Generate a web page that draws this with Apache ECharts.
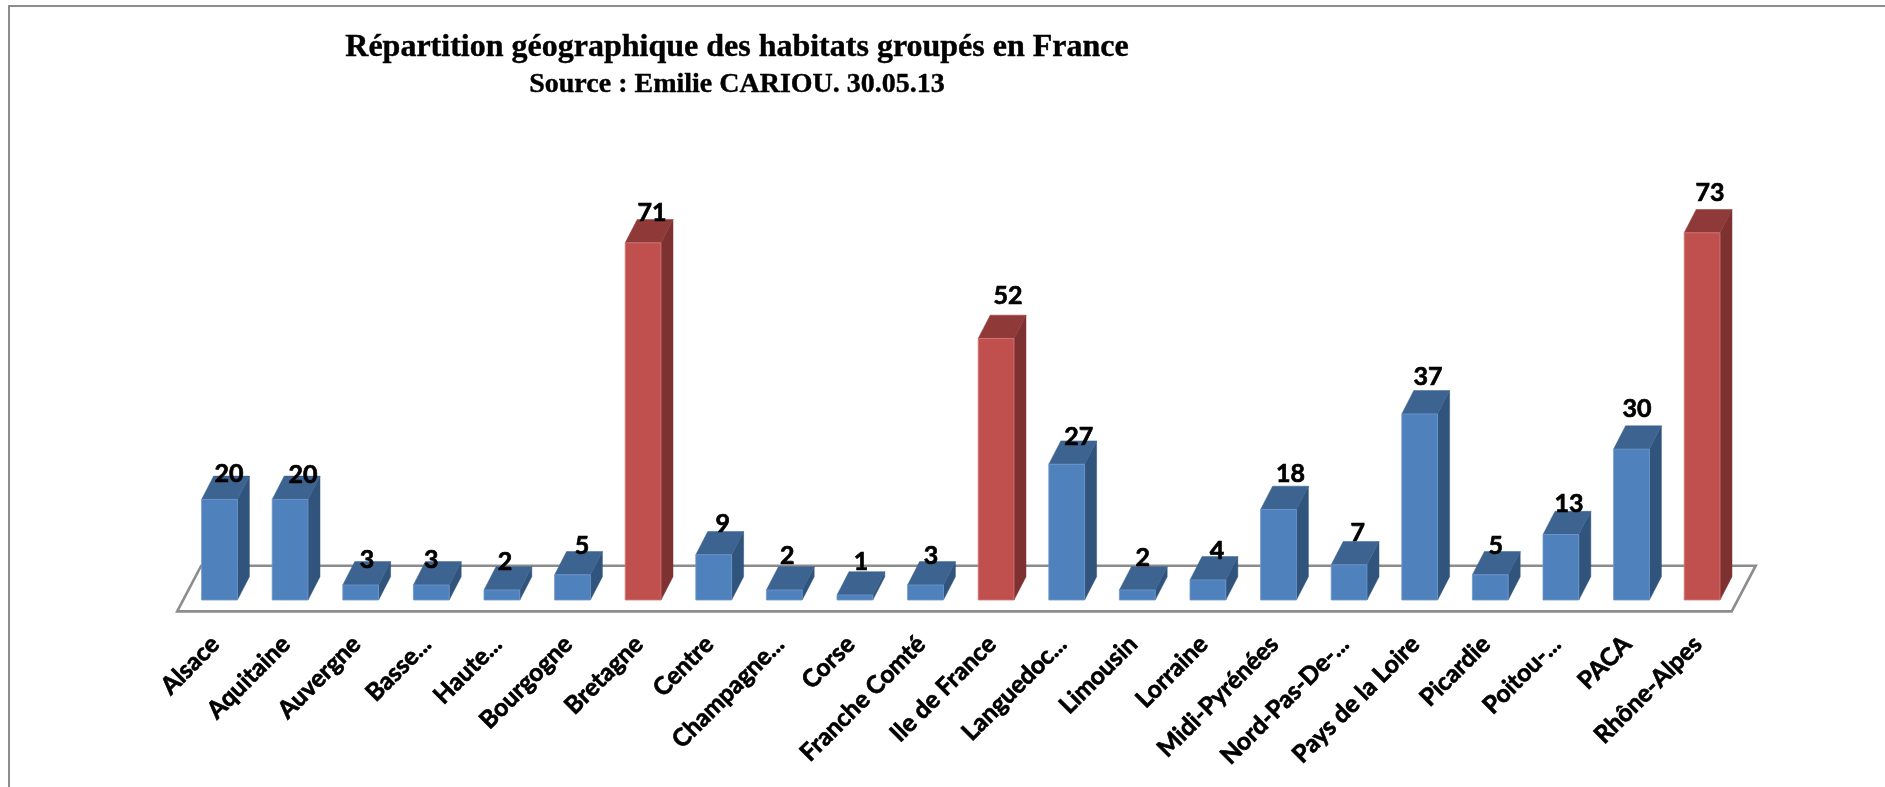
<!DOCTYPE html>
<html><head><meta charset="utf-8">
<style>html,body{margin:0;padding:0;background:#fff}#c{width:1885px;height:787px}</style>
<script src="https://cdn.jsdelivr.net/npm/echarts@6/dist/echarts.min.js"></script>
</head><body><div id="c"></div>
<script>
const categories = ["Alsace","Aquitaine","Auvergne","Basse...","Haute...","Bourgogne","Bretagne","Centre","Champagne...","Corse","Franche Comté","Ile de France","Languedoc...","Limousin","Lorraine","Midi-Pyrénées","Nord-Pas-De-...","Pays de la Loire","Picardie","Poitou-...","PACA","Rhône-Alpes"];
const values = [20,20,3,3,2,5,71,9,2,1,3,52,27,2,4,18,7,37,5,13,30,73];
const highlighted = ["Bretagne","Ile de France","Rhône-Alpes"];
const titleText = "Répartition géographique des habitats groupés en France";
const subtitleText = "Source : Emilie CARIOU. 30.05.13";
// label nudges relative to the bar (style only)
const labelShiftX = [9.5,13,6.3,0,3,9.5,9,9,3,6,5.5,12,12,5.4,9,12,8.6,8.3,5.4,8,5.5,8];
const labelShiftY = [-25.7,-24,-25,-25,-28.5,-29,-30,-31,-34,-32.6,-29,-42.7,-27.5,-32.5,-29,-36,-32,-37,-29,-31,-40,-40];

const DX = 12, DY = 23.3, BAR = 35.8;
const blue = {front:'#4f81bd', side:'#31547c', top:'#3d6391', edge:'#6d97cb'};
const red  = {front:'#c0504d', side:'#7d3231', top:'#8f3a39', edge:'#d07a78'};

function renderBar(params, api){
  const i = api.value(0), v = api.value(1);
  const top = api.coord([i, v]), base = api.coord([i, 0]);
  const w = BAR, l = top[0]-w/2, r = top[0]+w/2, t = top[1], b = base[1];
  const c = highlighted.includes(categories[i]) ? red : blue;
  return {type:'group', children:[
    {type:'polygon', shape:{points:[[r,t],[r+DX,t-DY],[r+DX,b-DY],[r,b]]}, style:{fill:c.side, stroke:c.side, lineWidth:.5}},
    {type:'polygon', shape:{points:[[l,t],[l+DX,t-DY],[r+DX,t-DY],[r,t]]}, style:{fill:c.top, stroke:c.top, lineWidth:.5}},
    {type:'rect', shape:{x:l,y:t,width:w,height:b-t}, style:{fill:c.front, stroke:c.edge, lineWidth:.8}},
    {type:'text', z2:10, style:{text:String(v), x:top[0]+labelShiftX[i], y:t+labelShiftY[i], fill:'#000',
      stroke:'#000', lineWidth:.7,
      font:'bold 25px Lato, sans-serif', textAlign:'center', textVerticalAlign:'middle'}}
  ]};
}
function renderFloor(params, api){
  const g = params.coordSys, y0 = api.coord([0,0])[1];
  const fy = y0+11.4, by = y0-34.3;
  const lf = g.x-7, rf = g.x+g.width-5.7;
  return {type:'polygon', shape:{points:[[lf,fy],[lf+24,by],[rf+24,by],[rf,fy]]},
    style:{fill:'#fff', stroke:'#8c8c8c', lineWidth:2.6}};
}
const chart = echarts.init(document.getElementById('c'));
chart.setOption({
  animation:false,
  backgroundColor:'#fff',
  title:[
    {text:titleText, left:732, top:27, textAlign:'center', textStyle:{fontFamily:'"Liberation Serif"', fontWeight:'bold', fontSize:32, color:'#000', textBorderColor:'#000', textBorderWidth:.4}},
    {text:subtitleText, left:732, top:66, textAlign:'center', textStyle:{fontFamily:'"Liberation Serif"', fontWeight:'bold', fontSize:28, color:'#000', textBorderColor:'#000', textBorderWidth:.4}}
  ],
  graphic:[{type:'polyline', silent:true, shape:{points:[[9,787],[9,6],[1885,6]]}, style:{fill:null, stroke:'#8c8c8c', lineWidth:2}}],
  grid:{left:184.2, width:1553.2, top:97, height:503},
  xAxis:{type:'category', data:categories, axisLine:{show:false}, axisTick:{show:false}, splitLine:{show:false},
    axisLabel:{rotate:45, interval:0, margin:36, padding:[0,6,0,0], color:'#000', fontFamily:'Lato', fontWeight:'bold', fontSize:24.5, hideOverlap:false, textBorderColor:'#000', textBorderWidth:.7}},
  yAxis:{type:'value', min:0, max:100, show:false},
  series:[
    {type:'custom', name:'sol', silent:true, z:1, clip:false, renderItem:renderFloor, data:[0], encode:{x:0}},
    {type:'custom', name:'Habitats groupés', z:2, clip:false, renderItem:renderBar,
      data:values.map((v,i)=>[i,v]), encode:{x:0,y:1}}
  ]
});
</script></body></html>
